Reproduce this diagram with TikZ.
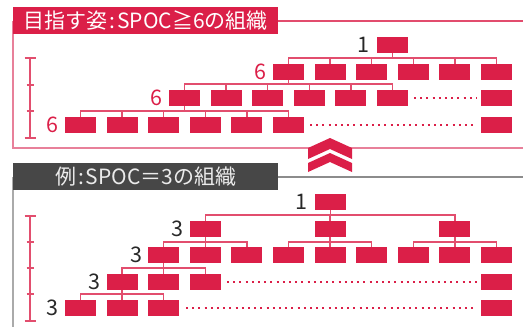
\documentclass[tikz,border=0pt]{standalone}
\usepackage{fontspec}
\newfontfamily\jp{Noto Sans CJK JP}
\definecolor{myred}{RGB}{219,31,72}
\definecolor{connred}{RGB}{226,78,110}
\definecolor{pinkline}{RGB}{232,128,154}
\definecolor{darkbar}{RGB}{71,71,71}
\definecolor{grayline}{RGB}{140,140,140}
\definecolor{lightgray}{RGB}{170,170,170}
\definecolor{numgray}{RGB}{40,40,40}
\begin{document}
\begin{tikzpicture}[x=1pt,y=-1pt,
  box/.style={fill=myred, minimum width=31pt, minimum height=16pt, inner sep=0pt, outer sep=0pt},
  conn/.style={draw=connred, line width=1.3pt},
  dotline/.style={draw=myred, line width=2pt, dash pattern=on 2pt off 4.2pt},
  brk/.style={draw=connred, line width=1.3pt},
  titletext/.style={font=\jp\fontsize{21}{22}\selectfont, text=white, inner sep=0pt},
  numlbl/.style={font=\jp\fontsize{21.5}{21.5}\selectfont, inner sep=0pt, anchor=base east},
  chev/.style={fill=myred, draw=none}
]
\useasboundingbox (0,0) rectangle (523,327);

% ===== top panel frame =====
\draw[draw=pinkline, line width=1.5pt] (13,21) -- (13,148) -- (523,148);
\draw[draw=myred!80!white, line width=1.3pt] (278,21) -- (523,21);
\node[fill=myred, minimum width=265pt, minimum height=27pt, inner sep=0pt, anchor=north west] (t1bar) at (13,7) {};
\node[titletext] (t1txt) at ([yshift=0.5pt]t1bar.center) {目指す姿\hspace{2pt}:\hspace{2pt}SPOC≧6の組織};

% ===== top tree =====
\node[box] (t0) at (392.5,45) {};
\foreach \i/\k in {1/5,2/6,3/7,4/8,5/9,6/10}
  \node[box] (a\i) at ({80.5+41.6*\k},72) {};
\foreach \i/\k in {1/2.5,2/3.5,3/4.5,4/5.5,5/6.5,6/7.5,7/10}
  \node[box] (b\i) at ({80.5+41.6*\k},98) {};
\foreach \i/\k in {1/0,2/1,3/2,4/3,5/4,6/5,7/10}
  \node[box] (c\i) at ({80.5+41.6*\k},125) {};

\foreach \i in {1,...,6}
  \draw[conn] (a\i.north) -- ++(0,-6) -| (t0.south);
\foreach \i in {1,...,6}
  \draw[conn] (b\i.north) -- ++(0,-6) -| (a1.south);
\foreach \i in {1,...,6}
  \draw[conn] (c\i.north) -- ++(0,-6) -| (b1.south);

\coordinate (d1s) at (414,98);
\coordinate (d1e) at (477,98);
\draw[dotline] (d1s) -- (d1e);
\coordinate (d2s) at (310,125);
\coordinate (d2e) at (477,125);
\draw[dotline] (d2s) -- (d2e);

\node[numlbl, text=numgray] (n1) at ([xshift=-7pt,yshift=0.5pt]t0.south west) {1};
\node[numlbl, text=myred] (n2) at ([xshift=-6pt,yshift=0.5pt]a1.south west) {6};
\node[numlbl, text=myred] (n3) at ([xshift=-6pt,yshift=0.5pt]b1.south west) {6};
\node[numlbl, text=myred] (n4) at ([xshift=-6pt,yshift=0.5pt]c1.south west) {6};

% bracket top
\draw[brk] (30,58) -- (30,138);
\draw[brk] (24.5,58) -- (35.5,58);
\draw[brk] (24.5,138) -- (35.5,138);
\draw[brk] (26.5,85) -- (33.5,85);
\draw[brk] (26.5,111) -- (33.5,111);

% ===== chevrons =====
\fill[chev] (330,138) -- (352,148) -- (352,159) -- (330,149) -- (308,159) -- (308,148) -- cycle;
\fill[chev] (330,153) -- (352,163) -- (352,172) -- (330,162) -- (308,172) -- (308,163) -- cycle;

% ===== bottom panel frame =====
\draw[draw=lightgray, line width=1.5pt] (13,177) -- (13,327);
\draw[draw=grayline, line width=2pt] (278,177) -- (523,177);
\node[fill=darkbar, minimum width=265pt, minimum height=27pt, inner sep=0pt, anchor=north west] (t2bar) at (13,163) {};
\node[titletext, text=white!92!black] (t2txt) at ([yshift=0.5pt]t2bar.center) {例\hspace{2pt}:\hspace{2pt}SPOC＝3の組織};

% ===== bottom tree =====
\node[box] (e0) at (330.5,202) {};
\foreach \i/\k in {1/3,2/6,3/9}
  \node[box] (f\i) at ({80.5+41.6*\k},229) {};
\foreach \i/\k in {1/2,2/3,3/4,4/5,5/6,6/7,7/8,8/9,9/10}
  \node[box] (g\i) at ({80.5+41.6*\k},255) {};
\foreach \i/\k in {1/1,2/2,3/3,4/10}
  \node[box] (h\i) at ({80.5+41.6*\k},282) {};
\foreach \i/\k in {1/0,2/1,3/2,4/10}
  \node[box] (k\i) at ({80.5+41.6*\k},308) {};

\foreach \i in {1,2,3}
  \draw[conn] (f\i.north) -- ++(0,-6) -| (e0.south);
\foreach \i in {1,2,3}
  \draw[conn] (g\i.north) -- ++(0,-5) -| (f1.south);
\foreach \i in {4,5,6}
  \draw[conn] (g\i.north) -- ++(0,-5) -| (f2.south);
\foreach \i in {7,8,9}
  \draw[conn] (g\i.north) -- ++(0,-5) -| (f3.south);
\foreach \i in {1,2,3}
  \draw[conn] (h\i.north) -- ++(0,-6) -| (g1.south);
\foreach \i in {1,2,3}
  \draw[conn] (k\i.north) -- ++(0,-6) -| (h1.south);

\coordinate (d3s) at (227,282);
\coordinate (d3e) at (477,282);
\draw[dotline] (d3s) -- (d3e);
\coordinate (d4s) at (186,308);
\coordinate (d4e) at (477,308);
\draw[dotline] (d4s) -- (d4e);

\node[numlbl, text=numgray] (m0) at ([xshift=-7pt,yshift=0.5pt]e0.south west) {1};
\node[numlbl, text=numgray] (m1) at ([xshift=-6pt,yshift=0.5pt]f1.south west) {3};
\node[numlbl, text=numgray] (m2) at ([xshift=-6pt,yshift=0.5pt]g1.south west) {3};
\node[numlbl, text=numgray] (m3) at ([xshift=-6pt,yshift=0.5pt]h1.south west) {3};
\node[numlbl, text=numgray] (m4) at ([xshift=-6pt,yshift=0.5pt]k1.south west) {3};

% bracket bottom
\draw[brk] (30,216) -- (30,321);
\draw[brk] (24.5,216) -- (35.5,216);
\draw[brk] (24.5,321) -- (35.5,321);
\draw[brk] (26.5,242) -- (33.5,242);
\draw[brk] (26.5,268) -- (33.5,268);
\draw[brk] (26.5,294) -- (33.5,294);
\end{tikzpicture}
\end{document}
